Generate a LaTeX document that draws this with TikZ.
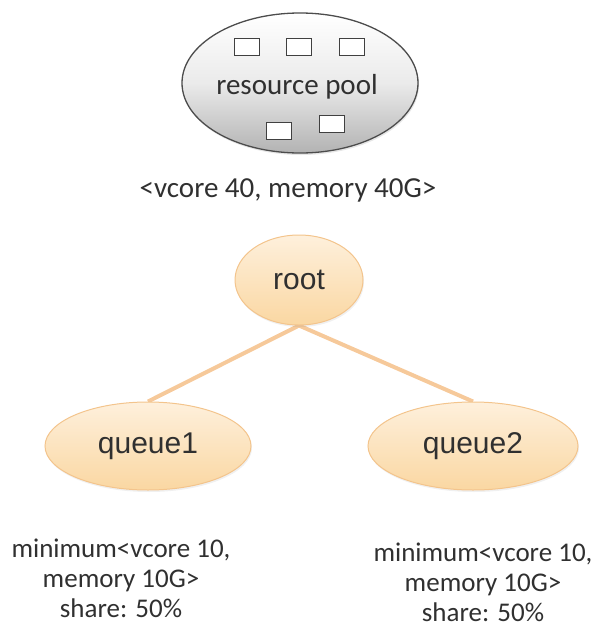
\documentclass[tikz,border=0pt]{standalone}
\usepackage{fontspec}
\setmainfont{Carlito}
\newfontfamily\arialfont{Liberation Sans}
\usetikzlibrary{shapes.geometric,shadows,backgrounds}
\definecolor{txt}{HTML}{303030}
\definecolor{orborder}{HTML}{F3C48C}
\definecolor{ortop}{HTML}{FEF0DC}
\definecolor{orbot}{HTML}{FAD7A2}
\definecolor{edgecol}{HTML}{F6C99A}
\tikzset{
  poolshape/.style={ellipse, draw=black!70, line width=1.3pt, top color=white, bottom color=black!30, middle color=black!8, minimum width=236pt, minimum height=140pt, inner sep=0pt, drop shadow={opacity=0.2, shadow xshift=1pt, shadow yshift=-2pt}},
  slot/.style={rectangle, draw=black!75, line width=1.5pt, fill=white, minimum width=25pt, minimum height=17pt, inner sep=0pt},
  qnode/.style={ellipse, draw=orborder, line width=1pt, top color=ortop, bottom color=orbot, inner sep=0pt, text=txt, font=\arialfont\fontsize{30}{32}\selectfont, drop shadow={opacity=0.12, shadow xshift=1pt, shadow yshift=-2pt}},
  link/.style={draw=edgecol, line width=4pt},
  lbl/.style={text=txt, align=center, inner sep=0pt, font=\fontsize{27}{30}\selectfont}
}
\begin{document}
\begin{tikzpicture}[x=1pt,y=-1pt]
\useasboundingbox (0,0) rectangle (604,630);
\node[poolshape] (pool) at (300,83) {};
\node[slot] (s1) at (247,47) {};
\node[slot] (s2) at (299,47) {};
\node[slot] (s3) at (352,47) {};
\node[slot] (s4) at (279,131) {};
\node[slot] (s5) at (332,124) {};
\node[lbl, font=\fontsize{29}{30}\selectfont] (pooltext) at (297,87) {resource pool};
\node[lbl, font=\fontsize{29}{30}\selectfont] (total) at (288,190) {<vcore 40, memory 40G>};
\node[qnode, minimum width=128pt, minimum height=90pt] (root) at (299,280) {root};
\node[qnode, minimum width=206pt, minimum height=88pt] (q1) at (148,446) {queue1};
\node[qnode, minimum width=210pt, minimum height=88pt] (q2) at (473,446) {queue2};
\node[lbl] (l1) at (121,578) {minimum<vcore 10,\\memory 10G>\\share: 50\%};
\node[lbl] (l2) at (483,582) {minimum<vcore 10,\\memory 10G>\\share: 50\%};
\begin{pgfonlayer}{background}
\draw[link] (root.south) -- (q1.north);
\draw[link] (root.south) -- (q2.north);
\end{pgfonlayer}
\end{tikzpicture}
\end{document}
